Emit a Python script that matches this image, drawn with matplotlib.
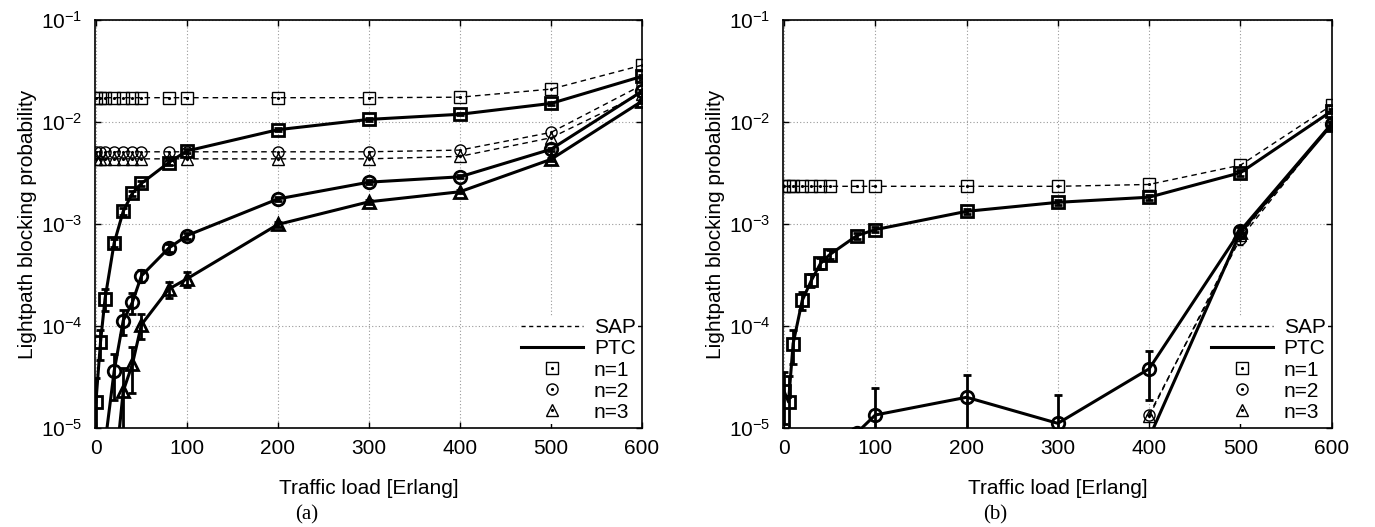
import numpy as np
import matplotlib
matplotlib.use("Agg")
import matplotlib.pyplot as plt
from matplotlib.lines import Line2D
from matplotlib.legend_handler import HandlerTuple

nan = np.nan

# traffic loads [Erlang]
loads = [0, 5, 10, 20, 30, 40, 50, 80, 100, 200, 300, 400, 500, 600]

# ---- panel (a) ----
sap_a_n1 = [1.73e-2] * 11 + [1.75e-2, 2.1e-2, 3.6e-2]
sap_a_n2 = [5.1e-3] * 11 + [5.3e-3, 7.9e-3, 2.3e-2]
sap_a_n3 = [4.35e-3] * 11 + [4.6e-3, 7.0e-3, 1.9e-2]

ptc_a_n1 = [1.8e-5, 6.9e-5, 1.85e-4, 6.5e-4, 1.33e-3, 2.0e-3, 2.5e-3,
            4.0e-3, 5.2e-3, 8.4e-3, 1.06e-2, 1.19e-2, 1.52e-2, 2.8e-2]
ptc_a_n2 = [nan, nan, 7e-6, 3.6e-5, 1.13e-4, 1.7e-4, 3.1e-4,
            5.8e-4, 7.7e-4, 1.76e-3, 2.57e-3, 2.9e-3, 5.4e-3, 2.0e-2]
ptc_a_n3 = [nan, nan, nan, 3e-6, 2.3e-5, 4.2e-5, 1.03e-4,
            2.3e-4, 2.9e-4, 9.9e-4, 1.65e-3, 2.07e-3, 4.3e-3, 1.6e-2]

err_a_n1 = [1.3e-5, 2.3e-5, 4.5e-5, 6e-5, 1e-4, 1.2e-4, 1.2e-4,
            2e-4, 2e-4, 3e-4, 3e-4, 3e-4, 5e-4, 8e-4]
err_a_n2 = [0, 0, 0, 1.7e-5, 3.2e-5, 4e-5, 4e-5,
            5e-5, 5e-5, 8e-5, 1e-4, 1e-4, 2e-4, 6e-4]
err_a_n3 = [0, 0, 0, 0, 1.6e-5, 2e-5, 2.8e-5,
            4e-5, 5e-5, 5e-5, 8e-5, 8e-5, 1.5e-4, 5e-4]

# ---- panel (b) ----
sap_b_n1 = [2.34e-3] * 11 + [2.44e-3, 3.77e-3, 1.46e-2]
sap_b_n2 = [nan] * 11 + [1.35e-5, 7.2e-4, 9.7e-3]
sap_b_n3 = [nan] * 11 + [1.3e-5, 7.8e-4, 9.5e-3]

ptc_b_n1 = [2.3e-5, 1.8e-5, 6.7e-5, 1.78e-4, 2.8e-4, 4.1e-4, 5.0e-4,
            7.7e-4, 8.8e-4, 1.33e-3, 1.63e-3, 1.83e-3, 3.18e-3, 1.28e-2]
ptc_b_n2 = [nan] * 7 + [9e-6, 1.34e-5, 2.0e-5, 1.11e-5, 3.8e-5, 8.6e-4, 9.6e-3]
ptc_b_n3 = [nan] * 11 + [8e-6, 8.3e-4, 9.4e-3]

err_b_n1 = [1.2e-5, 1.4e-5, 2.5e-5, 3.5e-5, 4e-5, 5e-5, 5e-5,
            5e-5, 5e-5, 8e-5, 1e-4, 1e-4, 2e-4, 6e-4]
err_b_n2 = [0] * 7 + [0, 1.1e-5, 1.3e-5, 1e-5, 1.9e-5, 1e-4, 5e-4]
err_b_n3 = [0] * 11 + [0, 1e-4, 5e-4]
err_b_sap = [0] * 11 + [0, 1e-4, 0]

plt.rcParams['font.family'] = ['Liberation Sans', 'DejaVu Sans']
plt.rcParams['mathtext.default'] = 'regular'
plt.rcParams['axes.unicode_minus'] = False

fs = 15
markers = {1: "s", 2: "o", 3: "^"}


def draw_sap(ax, y, n, err=None):
    ax.plot(loads, y, ls=(0, (4, 3)), lw=1.0, color="black",
            marker=markers[n], ms=8, mfc="none", mec="black", mew=1.0)
    ax.plot(loads, y, ls="none", marker=".", ms=2.5, color="black")
    if err is not None:
        ax.errorbar(loads, y, yerr=err, fmt="none", ecolor="black",
                    elinewidth=1.0, capsize=2.5)


def draw_ptc(ax, y, n, err):
    ax.errorbar(loads, y, yerr=err, color="black", lw=2.2,
                marker=markers[n], ms=9, mfc="none", mec="black", mew=2.0,
                elinewidth=2.0, capsize=3, capthick=2.0)


def setup(ax):
    ax.set_yscale("log")
    ax.set_xlim(-1, 600)
    ax.set_ylim(1e-5, 1e-1)
    ax.set_xticks([0, 100, 200, 300, 400, 500, 600])
    ax.set_yticks([1e-5, 1e-4, 1e-3, 1e-2, 1e-1])
    ax.minorticks_off()
    ax.grid(True, ls=(0, (1, 2)), color="#999999", lw=0.8)
    ax.tick_params(direction="in", length=4, top=True, right=True,
                   labelsize=fs, width=1.0)
    ax.tick_params(axis="y", pad=9)
    ax.tick_params(axis="x", pad=8)
    for s in ax.spines.values():
        s.set_linewidth(1.2)
    ax.set_xlabel("Traffic load [Erlang]", fontsize=fs, labelpad=15)
    ax.set_ylabel("Lightpath blocking probability", fontsize=fs, labelpad=3)

    dot = Line2D([], [], ls="none", marker=".", ms=2.5, color="black")
    handles = [
        Line2D([], [], ls=(0, (3, 2.5)), lw=1.0, color="black"),
        Line2D([], [], ls="-", lw=2.2, color="black"),
        (Line2D([], [], ls="none", marker="s", ms=8, mfc="none", mec="black", mew=1.0), dot),
        (Line2D([], [], ls="none", marker="o", ms=8, mfc="none", mec="black", mew=1.0), dot),
        (Line2D([], [], ls="none", marker="^", ms=8, mfc="none", mec="black", mew=1.0), dot),
    ]
    labels = ["SAP", "PTC", "n=1", "n=2", "n=3"]
    leg = ax.legend(handles, labels, loc="lower right", fontsize=fs,
                    handler_map={tuple: HandlerTuple(ndivide=1)},
                    handlelength=3.0, handletextpad=0.5, labelspacing=0.1,
                    borderpad=0.1, borderaxespad=0.2, frameon=True,
                    fancybox=False, framealpha=1.0)
    leg.get_frame().set_edgecolor("none")
    leg.set_zorder(5)


fig = plt.figure(figsize=(13.75, 5.27), dpi=100)
ax_a = fig.add_axes([0.0691, 0.1879, 0.3978, 0.7742])
ax_b = fig.add_axes([0.5695, 0.1879, 0.3990, 0.7742])

draw_sap(ax_a, sap_a_n1, 1)
draw_sap(ax_a, sap_a_n2, 2)
draw_sap(ax_a, sap_a_n3, 3)
draw_ptc(ax_a, ptc_a_n1, 1, err_a_n1)
draw_ptc(ax_a, ptc_a_n2, 2, err_a_n2)
draw_ptc(ax_a, ptc_a_n3, 3, err_a_n3)
setup(ax_a)

draw_sap(ax_b, sap_b_n1, 1)
draw_sap(ax_b, sap_b_n2, 2, err_b_sap)
draw_sap(ax_b, sap_b_n3, 3)
draw_ptc(ax_b, ptc_b_n1, 1, err_b_n1)
draw_ptc(ax_b, ptc_b_n2, 2, err_b_n2)
draw_ptc(ax_b, ptc_b_n3, 3, err_b_n3)
setup(ax_b)

fig.text(307 / 1375, 1 - 515 / 527, "(a)", ha="center", va="center",
         fontsize=fs, family="Liberation Serif")
fig.text(995 / 1375, 1 - 515 / 527, "(b)", ha="center", va="center",
         fontsize=fs, family="Liberation Serif")

fig.savefig("out.png", dpi=100)
